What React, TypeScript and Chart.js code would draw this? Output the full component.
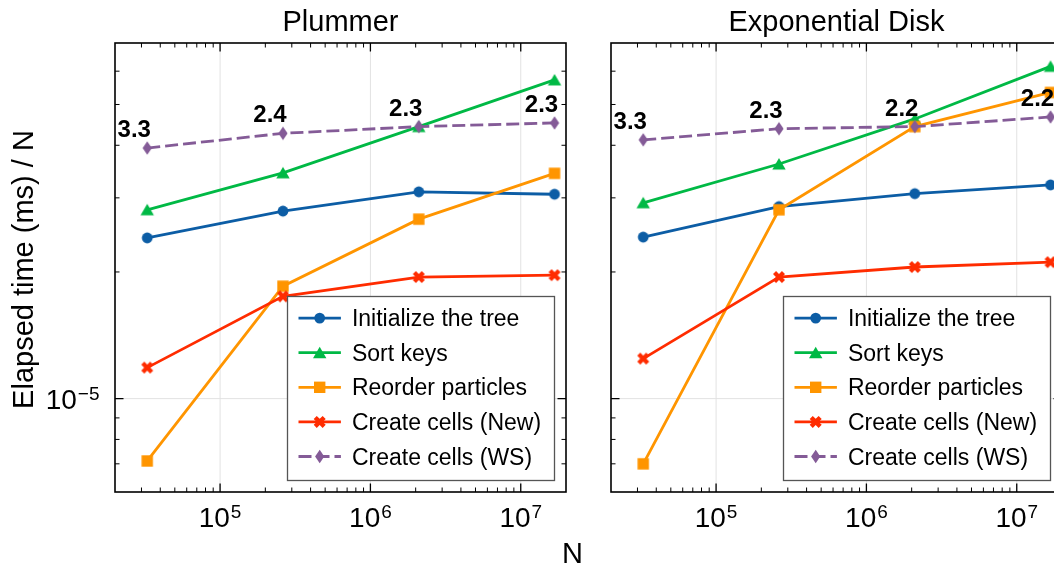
import React, { useEffect, useRef } from 'react';
import { Chart, registerables } from 'chart.js';

Chart.register(...registerables);

// ---------------- data ----------------
const N_VALUES = [32768, 262144, 2097152, 16777216];
const SERIES_LABELS = [
  'Initialize the tree',
  'Sort keys',
  'Reorder particles',
  'Create cells (New)',
  'Create cells (WS)',
];
const PANEL_TITLES = ['Plummer', 'Exponential Disk'];

const PLUMMER_INIT = [2.41e-5, 2.79e-5, 3.1e-5, 3.06e-5];
const PLUMMER_SORT = [2.81e-5, 3.44e-5, 4.43e-5, 5.72e-5];
const PLUMMER_REORDER = [7.11e-6, 1.85e-5, 2.67e-5, 3.43e-5];
const PLUMMER_NEW = [1.185e-5, 1.75e-5, 1.945e-5, 1.965e-5];
const PLUMMER_WS = [3.94e-5, 4.27e-5, 4.43e-5, 4.52e-5];
const PLUMMER_RATIOS = ['3.3', '2.4', '2.3', '2.3'];

const DISK_INIT = [2.42e-5, 2.86e-5, 3.07e-5, 3.22e-5];
const DISK_SORT = [2.92e-5, 3.61e-5, 4.62e-5, 6.16e-5];
const DISK_REORDER = [7.0e-6, 2.81e-5, 4.43e-5, 5.34e-5];
const DISK_NEW = [1.245e-5, 1.945e-5, 2.055e-5, 2.11e-5];
const DISK_WS = [4.12e-5, 4.38e-5, 4.43e-5, 4.67e-5];
const DISK_RATIOS = ['3.3', '2.3', '2.2', '2.2'];

const X_MAJOR_TICKS = [1e5, 1e6, 1e7];
const X_TICK_BASES = ['10', '10', '10'];
const X_TICK_EXPONENTS = ['5', '6', '7'];
const Y_MAJOR_TICKS = [1e-5];
const Y_TICK_BASES = ['10'];
const Y_TICK_EXPONENTS = ['\u22125'];
const X_LABEL = 'N';
const Y_LABEL = 'Elapsed time (ms) / N';
const X_MIN = 2e4;
const X_MAX = 2e7;
const Y_MIN = 6e-6;
const Y_MAX = 7e-5;

// ---------------- styles ----------------
const COLORS = ['#0C5DA5', '#00B945', '#FF9500', '#FF2C00', '#845B97'];
const MARKERS = ['circle', 'triangle', 'square', 'x', 'diamond'];
const FONT = '"Liberation Sans", Arial, Helvetica, sans-serif';
const LINE_WIDTH = 2.8;
const DASH = [13, 5];

function markerPath(ctx: CanvasRenderingContext2D, kind: string, x: number, y: number) {
  ctx.beginPath();
  if (kind === 'circle') {
    ctx.arc(x, y, 5.4, 0, Math.PI * 2);
  } else if (kind === 'triangle') {
    ctx.moveTo(x, y - 6);
    ctx.lineTo(x + 6.7, y + 5.5);
    ctx.lineTo(x - 6.7, y + 5.5);
    ctx.closePath();
  } else if (kind === 'square') {
    ctx.rect(x - 5.7, y - 5.7, 11.4, 11.4);
  } else if (kind === 'x') {
    const t = 0.34;
    const pts: number[][] = [
      [t, 1], [t, t], [1, t], [1, -t], [t, -t], [t, -1],
      [-t, -1], [-t, -t], [-1, -t], [-1, t], [-t, t], [-t, 1],
    ];
    const s = 6 / ((1 + t) / Math.SQRT2);
    const c = Math.SQRT1_2;
    pts.forEach(([px, py], i) => {
      const rx = (px * c - py * c) * s;
      const ry = (px * c + py * c) * s;
      if (i === 0) ctx.moveTo(x + rx, y + ry);
      else ctx.lineTo(x + rx, y + ry);
    });
    ctx.closePath();
  } else if (kind === 'diamond') {
    ctx.moveTo(x, y - 6.7);
    ctx.lineTo(x + 4.6, y);
    ctx.lineTo(x, y + 6.7);
    ctx.lineTo(x - 4.6, y);
    ctx.closePath();
  }
}

function makeMarkerCanvas(kind: string, color: string): HTMLCanvasElement {
  const c = document.createElement('canvas');
  c.width = kind === 'diamond' ? 12 : 16;
  c.height = 16;
  const ctx = c.getContext('2d')!;
  ctx.fillStyle = color;
  markerPath(ctx, kind, c.width / 2, c.height / 2);
  ctx.fill();
  return c;
}

type PanelSpec = {
  title: string;
  series: number[][];
  ratios: string[];
  leftAxisLabels: boolean;
  padding: { left: number; right: number; top: number; bottom: number };
};

const PANELS: PanelSpec[] = [
  {
    title: PANEL_TITLES[0],
    series: [PLUMMER_INIT, PLUMMER_SORT, PLUMMER_REORDER, PLUMMER_NEW, PLUMMER_WS],
    ratios: PLUMMER_RATIOS,
    leftAxisLabels: true,
    padding: { left: 115, right: 34, top: 43, bottom: 74 },
  },
  {
    title: PANEL_TITLES[1],
    series: [DISK_INIT, DISK_SORT, DISK_REORDER, DISK_NEW, DISK_WS],
    ratios: DISK_RATIOS,
    leftAxisLabels: false,
    padding: { left: 31, right: 18, top: 43, bottom: 74 },
  },
];

function minorTicks(lo: number, hi: number, e0: number, e1: number): number[] {
  const out: number[] = [];
  for (let e = e0; e <= e1; e++) {
    for (let k = 2; k <= 9; k++) {
      const v = k * Math.pow(10, e);
      const lv = Math.log10(v);
      if (lv > Math.log10(lo) + 1e-6 && lv < Math.log10(hi) - 1e-6) out.push(v);
    }
  }
  return out;
}

function drawSupLabel(
  ctx: CanvasRenderingContext2D,
  base: string,
  exp: string,
  x: number,
  baseline: number,
  align: 'center' | 'right'
) {
  ctx.textAlign = 'left';
  ctx.textBaseline = 'alphabetic';
  ctx.font = `28px ${FONT}`;
  const wb = ctx.measureText(base).width;
  ctx.font = `19px ${FONT}`;
  const we = ctx.measureText(exp).width;
  const total = wb + we + 1;
  const start = align === 'center' ? x - total / 2 : x - total;
  ctx.font = `28px ${FONT}`;
  ctx.fillText(base, start, baseline);
  ctx.font = `19px ${FONT}`;
  ctx.fillText(exp, start + wb + 1, baseline - 9.5);
}

function decorPlugin(spec: PanelSpec) {
  return {
    id: 'panelDecor',
    beforeDatasetsDraw(chart: any) {
      const { ctx, chartArea: a } = chart;
      const xs = chart.scales.x;
      const ys = chart.scales.y;
      ctx.save();
      ctx.strokeStyle = '#e2e2e2';
      ctx.lineWidth = 1;
      X_MAJOR_TICKS.forEach((v) => {
        const px = xs.getPixelForValue(v);
        ctx.beginPath();
        ctx.moveTo(px, a.top);
        ctx.lineTo(px, a.bottom);
        ctx.stroke();
      });
      Y_MAJOR_TICKS.forEach((v) => {
        const py = ys.getPixelForValue(v);
        ctx.beginPath();
        ctx.moveTo(a.left, py);
        ctx.lineTo(a.right, py);
        ctx.stroke();
      });
      ctx.restore();
    },
    afterDatasetsDraw(chart: any) {
      const { ctx, chartArea: a } = chart;
      const xs = chart.scales.x;
      const ys = chart.scales.y;
      ctx.save();

      // ticks
      ctx.strokeStyle = '#000';
      const xMinor = minorTicks(X_MIN, X_MAX, 4, 7);
      const yMinor = minorTicks(Y_MIN, Y_MAX, -6, -5);
      const xt = [
        ...X_MAJOR_TICKS.map((v) => ({ v, major: true })),
        ...xMinor.map((v) => ({ v, major: false })),
      ];
      const yt = [
        ...Y_MAJOR_TICKS.map((v) => ({ v, major: true })),
        ...yMinor.map((v) => ({ v, major: false })),
      ];
      xt.forEach(({ v, major }) => {
        const px = xs.getPixelForValue(v);
        const len = major ? 8.5 : 4.5;
        ctx.lineWidth = major ? 1.3 : 1;
        ctx.beginPath();
        ctx.moveTo(px, a.bottom);
        ctx.lineTo(px, a.bottom - len);
        ctx.moveTo(px, a.top);
        ctx.lineTo(px, a.top + len);
        ctx.stroke();
      });
      yt.forEach(({ v, major }) => {
        const py = ys.getPixelForValue(v);
        const len = major ? 8.5 : 4.5;
        ctx.lineWidth = major ? 1.3 : 1;
        ctx.beginPath();
        ctx.moveTo(a.left, py);
        ctx.lineTo(a.left + len, py);
        ctx.moveTo(a.right, py);
        ctx.lineTo(a.right - len, py);
        ctx.stroke();
      });

      // frame
      ctx.lineWidth = 1.6;
      ctx.strokeRect(a.left, a.top, a.right - a.left, a.bottom - a.top);

      // ratio annotations
      ctx.fillStyle = '#000';
      ctx.font = `bold 24px ${FONT}`;
      ctx.textAlign = 'center';
      ctx.textBaseline = 'alphabetic';
      const ws = spec.series[4];
      spec.ratios.forEach((t, i) => {
        const px = xs.getPixelForValue(N_VALUES[i]);
        const py = ys.getPixelForValue(ws[i]);
        ctx.fillText(t, px - 13, py - 11);
      });

      // legend
      const lr = a.right - 11.5;
      const lb = a.bottom - 11.5;
      const lw = 267;
      const lh = 184;
      const ll = lr - lw;
      const lt = lb - lh;
      ctx.fillStyle = '#fff';
      ctx.fillRect(ll, lt, lw, lh);
      ctx.strokeStyle = '#555';
      ctx.lineWidth = 1.3;
      ctx.strokeRect(ll, lt, lw, lh);
      SERIES_LABELS.forEach((label, i) => {
        const y = lt + 21.6 + i * 34.6;
        ctx.strokeStyle = COLORS[i];
        ctx.lineWidth = LINE_WIDTH;
        ctx.setLineDash(i === 4 ? DASH : []);
        ctx.beginPath();
        ctx.moveTo(ll + 11, y);
        ctx.lineTo(ll + 53.4, y);
        ctx.stroke();
        ctx.setLineDash([]);
        ctx.fillStyle = COLORS[i];
        markerPath(ctx, MARKERS[i], ll + 32.2, y);
        ctx.fill();
        ctx.fillStyle = '#000';
        ctx.font = `23px ${FONT}`;
        ctx.textAlign = 'left';
        ctx.textBaseline = 'alphabetic';
        ctx.fillText(label, ll + 64.4, y + 8);
      });

      // x tick labels
      ctx.fillStyle = '#000';
      X_MAJOR_TICKS.forEach((v, i) => {
        const px = xs.getPixelForValue(v);
        drawSupLabel(ctx, X_TICK_BASES[i], X_TICK_EXPONENTS[i], px, a.bottom + 35.3, 'center');
      });

      // title
      ctx.font = `29px ${FONT}`;
      ctx.textAlign = 'center';
      ctx.textBaseline = 'alphabetic';
      ctx.fillText(spec.title, (a.left + a.right) / 2, 30.7);

      if (spec.leftAxisLabels) {
        Y_MAJOR_TICKS.forEach((v, i) => {
          const py = ys.getPixelForValue(v);
          drawSupLabel(ctx, Y_TICK_BASES[i], Y_TICK_EXPONENTS[i], a.left - 15.5, py + 10.5, 'right');
        });
        // y label
        ctx.save();
        ctx.translate(33.3, (a.top + a.bottom) / 2 + 2);
        ctx.rotate(-Math.PI / 2);
        ctx.font = `29px ${FONT}`;
        ctx.textAlign = 'center';
        ctx.textBaseline = 'alphabetic';
        ctx.fillText(Y_LABEL, 0, 0);
        ctx.restore();
        // x label
        ctx.font = `29px ${FONT}`;
        ctx.textAlign = 'center';
        ctx.fillText(X_LABEL, 572.5, 562.7);
      }
      ctx.restore();
    },
  };
}

function makePanel(canvas: HTMLCanvasElement, spec: PanelSpec): Chart {
  const markerCanvases = MARKERS.map((m, i) => makeMarkerCanvas(m, COLORS[i]));
  return new Chart(canvas, {
    type: 'line',
    data: {
      datasets: spec.series.map((vals, i) => ({
        label: SERIES_LABELS[i],
        data: N_VALUES.map((n, j) => ({ x: n, y: vals[j] })),
        borderColor: COLORS[i],
        backgroundColor: COLORS[i],
        borderWidth: LINE_WIDTH,
        borderDash: i === 4 ? DASH : [],
        pointStyle: markerCanvases[i] as any,
        pointRadius: 7,
        pointHoverRadius: 7,
        order: 4 - i,
        tension: 0,
        fill: false,
      })),
    },
    options: {
      responsive: false,
      animation: false,
      events: [],
      layout: { padding: spec.padding },
      scales: {
        x: { type: 'logarithmic', min: X_MIN, max: X_MAX, display: false },
        y: { type: 'logarithmic', min: Y_MIN, max: Y_MAX, display: false },
      },
      plugins: {
        legend: { display: false },
        tooltip: { enabled: false },
        title: { display: false },
      },
    } as any,
    plugins: [decorPlugin(spec)],
  });
}

export default function App() {
  const leftRef = useRef<HTMLCanvasElement>(null);
  const rightRef = useRef<HTMLCanvasElement>(null);
  useEffect(() => {
    const charts: Chart[] = [];
    if (leftRef.current) charts.push(makePanel(leftRef.current, PANELS[0]));
    if (rightRef.current) charts.push(makePanel(rightRef.current, PANELS[1]));
    return () => charts.forEach((c) => c.destroy());
  }, []);
  return (
    <div
      style={{
        position: 'absolute',
        left: 0,
        top: 0,
        width: 1054,
        height: 566,
        overflow: 'hidden',
        background: '#fff',
      }}
    >
      <div style={{ position: 'absolute', left: 0, top: 0, width: 600, height: 566 }}>
        <canvas ref={leftRef} width={600} height={566} style={{ width: 600, height: 566 }} />
      </div>
      <div style={{ position: 'absolute', left: 580, top: 0, width: 500, height: 566 }}>
        <canvas ref={rightRef} width={500} height={566} style={{ width: 500, height: 566 }} />
      </div>
    </div>
  );
}
